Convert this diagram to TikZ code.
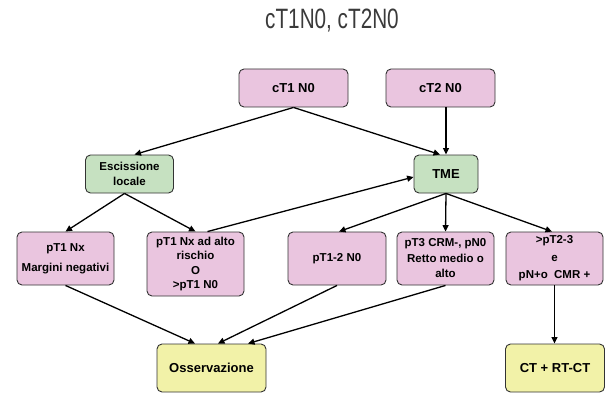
\documentclass[tikz,border=0pt]{standalone}
\usepackage{fontspec}
\setmainfont{Liberation Sans}
\newfontfamily\titlefont[FakeStretch=0.74]{Liberation Sans}
\usetikzlibrary{arrows.meta}

\definecolor{boxpink}{HTML}{EAC5DF}
\definecolor{boxgreen}{HTML}{C6E1C1}
\definecolor{boxyellow}{HTML}{F2F2A8}
\definecolor{edgegray}{HTML}{333333}
\definecolor{titlegray}{HTML}{3A3A3A}

\tikzset{
  card/.style={draw=edgegray, line width=0.9pt, rounded corners=5pt,
    align=center, inner sep=0pt, font=\bfseries\fontsize{11.5}{14.6}\selectfont},
  pinkcard/.style={card, fill=boxpink},
  greencard/.style={card, fill=boxgreen},
  yellowcard/.style={card, fill=boxyellow},
  bigtext/.style={font=\bfseries\fontsize{13}{15}\selectfont},
  flow/.style={draw=black, line width=1.3pt,
    -{Triangle[length=6.5pt,width=6pt]}},
  plainline/.style={draw=black, line width=1.3pt}
}

\begin{document}
\begin{tikzpicture}[x=1pt, y=-1pt]
\useasboundingbox (0,0) rectangle (607,393);

% heading
\node[text=titlegray, font=\titlefont\fontsize{28}{30}\selectfont] (title) at (332,21) {cT1N0, cT2N0};

% clinical stage
\node[pinkcard, bigtext, minimum width=109pt, minimum height=38pt] (ct1) at (293.5,88) {cT1 N0};
\node[pinkcard, bigtext, minimum width=109pt, minimum height=38pt] (ct2) at (440.5,88) {cT2 N0};

% first treatment
\node[greencard, minimum width=88pt, minimum height=38pt] (esc) at (129.5,174) {Escissione\\locale};
\node[greencard, bigtext, minimum width=64pt, minimum height=38pt] (tme) at (446,174) {TME};

% pathological findings
\node[pinkcard, minimum width=97pt, minimum height=53pt] (pnx) at (65.5,258.5) {pT1 Nx\\[5.5pt]Margini negativi};
\node[pinkcard, minimum width=97pt, minimum height=64pt] (alto) at (195.5,264) {pT1 Nx ad alto\\rischio\\O\\{>}pT1 N0};
\node[pinkcard, minimum width=98pt, minimum height=53pt] (p12) at (337,258.5) {pT1-2 N0};
\node[pinkcard, minimum width=97pt, minimum height=53pt, font=\bfseries\fontsize{11.5}{15.5}\selectfont] (pt3) at (445.5,258.5) {pT3 CRM-, pN0\\Retto medio o\\alto};
\node[pinkcard, minimum width=97pt, minimum height=53pt, font=\bfseries\fontsize{11.5}{17.5}\selectfont] (pt23) at (554.5,258.5) {{>}pT2-3\\e\\pN+o~ CMR +};

% outcome
\node[yellowcard, bigtext, minimum width=109pt, minimum height=48pt] (oss) at (211.5,368) {Osservazione};
\node[yellowcard, bigtext, minimum width=99pt, minimum height=48pt] (ctrt) at (555,368) {CT + RT-CT};

% connectors
\draw[flow] (ct1.south) -- ([xshift=5pt]esc.north);
\draw[flow] (ct1.south) -- ([xshift=-6pt]tme.north);
\draw[flow] (tme.north |- ct2.south) -- (tme.north);

\draw[flow] ([xshift=-5pt]esc.south) -- (pnx.north);
\draw[flow] ([xshift=-5pt]esc.south) -- (alto.north);
\draw[flow] ([xshift=12pt]alto.north) -- ([yshift=-3pt]tme.west);

\draw[flow] (tme.south) -- ([xshift=2pt]p12.north);
\draw[flow] (tme.south) -- (pt3.north);
\draw[flow] (tme.south) -- ([xshift=-2.5pt]pt23.north);

\draw[flow] (pnx.south) -- ([xshift=-16.5pt]oss.north);
\draw[flow] (p12.south) -- ([xshift=6.5pt]oss.north);
\draw[flow] (pt3.south) -- ([xshift=36.5pt]oss.north);

\draw[flow] (pt23.south) -- (pt23.south |- ctrt.north);
\end{tikzpicture}
\end{document}
